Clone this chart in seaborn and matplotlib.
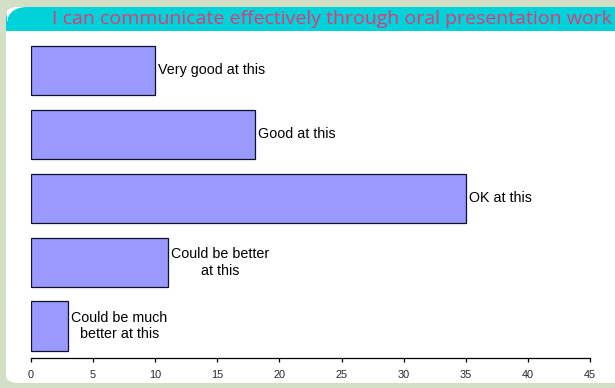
import matplotlib
matplotlib.use("Agg")
import matplotlib.pyplot as plt
import seaborn as sns
import pandas as pd
from matplotlib.patches import FancyBboxPatch, Rectangle

categories = ["Very good at this", "Good at this", "OK at this",
              "Could be better\nat this", "Could be much\nbetter at this"]
values = [10, 18, 35, 11, 3]
xticks = [0, 5, 10, 15, 20, 25, 30, 35, 40, 45]
title = "I can communicate effectively through oral presentation work"

sns.set_style("white")
plt.rcParams['font.family'] = ['Liberation Sans', 'DejaVu Sans']

W, H = 615, 388
fig = plt.figure(figsize=(W / 100, H / 100), dpi=100)
fig.patch.set_facecolor("#D3DEC6")

# white panel
panel = FancyBboxPatch((6 / W, 5 / H), (W + 20 - 6) / W, (H - 7 - 5) / H,
                       boxstyle="round,pad=0,rounding_size=0.02",
                       transform=fig.transFigure, facecolor="white",
                       edgecolor="none", zorder=0)
fig.patches.append(panel)
# title bar
bar = FancyBboxPatch((6 / W, (H - 31) / H), (W + 20 - 6) / W, 24 / H,
                     boxstyle="round,pad=0,rounding_size=0.035",
                     transform=fig.transFigure, facecolor="#00D2D9",
                     edgecolor="none", zorder=1, mutation_aspect=W / H)
fig.patches.append(bar)
fig.patches.append(Rectangle((6 / W, (H - 31) / H), (W) / W, 10 / H,
                             transform=fig.transFigure, facecolor="#00D2D9",
                             edgecolor="none", zorder=1))
fig.text(612 / W, (H - 19) / H, title, ha="right", va="center",
         fontsize=14, color="#E33878", family=["Open Sans", "DejaVu Sans"],
         zorder=3)

ax = fig.add_axes([31 / W, (H - 358) / H, (590 - 31) / W, (358 - 38.5) / H])
ax.set_zorder(5)
ax.set_facecolor("none")
df = pd.DataFrame({"cat": categories, "val": values})
sns.barplot(data=df, x="val", y="cat", ax=ax, color="#9999FF",
            saturation=1, edgecolor="#10102a", linewidth=0.9, width=0.77)

for i, v in enumerate(values):
    ax.text(v + 0.25, i, categories[i], ha="left", va="center",
            multialignment="center", fontsize=10.3, color="black",
            linespacing=1.25)

ax.set_xlim(0, 45)
ax.set_ylim(4.5, -0.5)
ax.set_xticks(xticks)
ax.set_xticklabels([str(t) for t in xticks], fontsize=7.8)
ax.set_yticks([])
ax.set_xlabel("")
ax.set_ylabel("")
for s in ["top", "right", "left"]:
    ax.spines[s].set_visible(False)
ax.spines["bottom"].set_color("black")
ax.spines["bottom"].set_linewidth(0.9)
ax.tick_params(axis="x", direction="out", length=3, width=0.9,
               color="black", bottom=True, pad=6)

fig.savefig("out.png", dpi=100, facecolor=fig.get_facecolor())
